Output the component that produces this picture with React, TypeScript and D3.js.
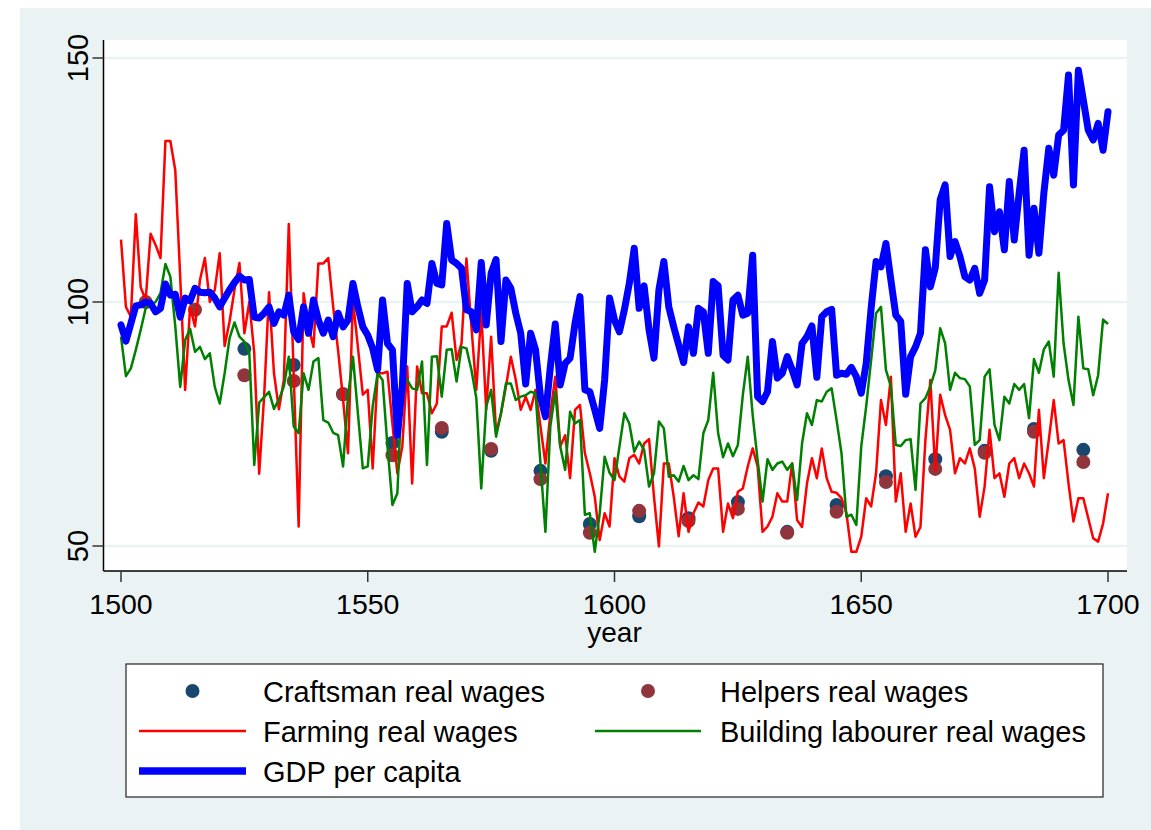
import React from 'react';
import * as d3 from 'd3';

// yearly series, 1500..1700
const startYear = 1500;

const farming = [
  112.8, 99, 97, 118, 103, 100.4, 114, 111.7, 109, 133, 133, 127, 105, 82, 99, 95, 104.5, 109, 100, 102.5,
  110, 91, 96, 102.5, 108, 93.6, 100, 89.5, 64.8, 80.6, 102, 85.4, 78, 84, 116, 85, 54, 101.8, 95, 90.8,
  107.9, 107.9, 109, 99, 90, 80, 69, 100.4, 90.8, 81, 82, 65.9, 85.4, 85.4, 85.7, 75, 64.9, 70.4, 86.8, 62.8,
  86.8, 81.3, 81.3, 77.2, 79.2, 95, 95, 97.8, 88.1, 91.5, 108.9, 95, 82, 98, 77.9, 92.9, 73.1, 77.2, 82.7, 88.8,
  84, 77.9, 80.6, 77.9, 82, 74.5, 66.9, 77.2, 84.7, 70.4, 72.7, 63.9, 77.9, 78.9, 69, 64.9, 60.1, 51.2, 56.7, 54,
  68, 64.2, 63.2, 68, 68.7, 66.9, 71, 71.9, 60.1, 49.9, 66.9, 66.9, 60.1, 52, 60.8, 52.9, 56.7, 58.9, 58.1, 63.5,
  65.9, 65.9, 52.9, 58.7, 55.7, 61.1, 61.8, 66.3, 70, 66.3, 52.9, 54, 56, 60.8, 59.1, 59.1, 66.9, 55.3, 53.9, 62.8,
  68, 63.9, 70, 63.9, 61.1, 60.9, 59.8, 56.7, 48.8, 48.8, 51.9, 59.8, 58.1, 64.9, 79.9, 74.8, 84.7, 59.1, 64.9, 52.9,
  58.7, 51.9, 53.9, 71.7, 84, 65.5, 81, 76.8, 73.8, 64.9, 68, 66.9, 70, 65.9, 56, 62.2, 73.8, 63.9, 64.9, 60.1,
  66.9, 68, 63.9, 66.9, 64.9, 62.2, 77.9, 63.9, 71.7, 79.9, 71, 71.7, 62.8, 55, 59.8, 59.8, 55.7, 51.6, 50.9, 54.6,
  60.8,
];

const building = [
  92.9, 84.8, 86.4, 90.2, 94.3, 98.7, 99.4, 100, 101.8, 107.8, 105.2, 95, 82.6, 92.2, 94.5, 89.8, 90.8, 88.3, 89.5, 82.6,
  79.2, 85.4, 92.6, 95.8, 92.9, 91.9, 89.5, 66.6, 79.4, 80.5, 81.6, 78.1, 80, 82.7, 88.8, 74.5, 73.1, 85.4, 82, 87.8,
  88.5, 75.8, 75.3, 73.2, 72.7, 66.3, 80.6, 88.8, 77.2, 65.9, 66.3, 78.6, 85.4, 84, 70.4, 58.4, 60.8, 84, 84, 82.3,
  82, 87.8, 66.6, 88.8, 88.9, 80.6, 90.2, 90.3, 83.7, 90.8, 90.5, 86.1, 80.3, 61.8, 78.6, 82, 72.4, 77.2, 83.3, 83.3,
  79.9, 80.6, 80.9, 81.6, 81.3, 66.9, 52.9, 74.5, 81.6, 70.4, 65.6, 77.5, 75.1, 75.8, 56.4, 56.7, 48.8, 56.7, 68.3, 65,
  63.5, 70.4, 77.2, 75.1, 69.3, 71.4, 69.7, 62.2, 64.9, 75.5, 74.1, 64.2, 64.5, 63.2, 66.4, 63.5, 64.5, 63.7, 73.1, 75.8,
  85.5, 73.1, 68.2, 71, 68.4, 70.7, 80.9, 88.8, 76.8, 67.6, 59.1, 67.8, 65.6, 66.9, 67.3, 65.6, 66.9, 59.4, 71, 77.2,
  74.8, 79.9, 79.6, 81.6, 82.3, 75.8, 69, 56, 56.4, 54.3, 70.4, 78.6, 88.1, 97.7, 99, 86.1, 82.7, 70.7, 70.5, 71.7,
  71.9, 61.5, 79.2, 80.3, 82.7, 86, 94.6, 91.5, 82, 85.5, 84.4, 84.2, 82.7, 70.7, 71.7, 84.7, 86.2, 74.8, 71.7, 80.6,
  79.2, 83.2, 82, 83.2, 76.2, 88.3, 85.5, 90.3, 91.9, 84.7, 106, 91.5, 84, 78.9, 97, 86.4, 86.2, 80.9, 85, 96.4,
  95.5,
];

const gdp = [
  95.3, 92, 95.6, 99.2, 99.4, 100, 99.7, 98, 98.7, 103.7, 101.4, 101.6, 96.9, 100.8, 100.2, 102.8, 102, 101.9, 102, 100.8,
  99, 100.8, 102.5, 104, 105.3, 104.5, 104.6, 96.9, 96.7, 97.7, 99, 95.6, 98, 97.3, 101.4, 93.9, 92.3, 99, 93.6, 100.4,
  96.3, 93.6, 96.3, 92.9, 97.7, 94.9, 96.3, 103.8, 99, 94.9, 93.2, 90.5, 86.1, 100.4, 91.5, 90.2, 72.7, 82.7, 103.8, 98,
  99, 100.4, 99.7, 107.9, 103.8, 103.5, 116.1, 108.6, 107.9, 106.9, 98.4, 98, 94.3, 108.1, 95.3, 105.9, 108.7, 91.9, 104.5, 102.8,
  97.7, 93.6, 83.2, 93.6, 90.2, 80.6, 76.5, 86.7, 95.5, 83, 87.4, 88.5, 95.6, 101.1, 82, 81.6, 77.9, 74.1, 84, 100.8,
  96.3, 93.9, 98.4, 103.8, 111, 98.7, 103.3, 94.3, 88.5, 102.5, 108.3, 99, 94.9, 91.2, 87.6, 94.9, 89.5, 98.7, 98, 89.5,
  104.2, 103.3, 89.1, 88.1, 100.4, 101.4, 97.3, 97.7, 109.6, 80.6, 79.6, 81.6, 91.9, 84.4, 85.4, 88.8, 86.1, 83, 91.5, 92.9,
  95.1, 84.6, 97, 98, 98.5, 85, 85.4, 85.2, 86.6, 84.7, 81.3, 87.4, 98.7, 108.3, 107.2, 112, 104.5, 97.3, 96, 81.1,
  88.8, 90.8, 93.6, 110.7, 103.1, 107, 121, 124, 109.3, 112.4, 109.3, 105.2, 104.5, 106.9, 101.8, 104.5, 123.6, 114.4, 118.5, 110.7,
  124.7, 112.7, 122.3, 131.1, 109.6, 119.2, 110, 122.3, 131.5, 126, 134.2, 135.2, 146.5, 124, 147.5, 141.4, 135.2, 133.2, 136.6, 131.1,
  139,
];

// decade observations
const markerYears = [1505, 1515, 1525, 1535, 1545, 1555, 1565, 1575, 1585, 1595, 1605, 1615, 1625, 1635, 1645, 1655, 1665, 1675, 1685, 1695];
const craftsman = [null, null, 90.4, 87.1, 81.1, 71.1, 73.4, 69.5, 65.4, 54.5, 56.1, 55.7, 59, 52.9, 58.4, 64.3, 67.8, 69.5, 74, 69.7];
const helpers = [100, 98.4, 85, 83.8, 81.1, 68.6, 74.2, 69.9, 63.7, 52.7, 57.2, 55.1, 57.6, 52.7, 57, 63.1, 65.8, 69.1, 73.4, 67.2];

const xTicks = [1500, 1550, 1600, 1650, 1700];
const yTicks = [50, 100, 150];

const W = 1151;
const H = 830;
const FONT = '"Liberation Sans", Arial, sans-serif';

const BG = '#eaf2f3';
const NAVY = '#1a476f';
const MAROON = '#90353b';

const x = d3.scaleLinear().domain([1500, 1700]).range([121, 1108]);
const y = d3.scaleLinear().domain([50, 150]).range([546, 58]);

const toPts = (vals: number[]) => vals.map((v, i) => [startYear + i, v] as [number, number]);

const line = d3
  .line<[number, number]>()
  .x((d) => x(d[0]))
  .y((d) => y(d[1]));

const plot = { left: 103.5, right: 1127, top: 40, bottom: 571 };

type LegendItem = { label: string; kind: 'dot' | 'line'; color: string; width?: number };
const legendItems: LegendItem[] = [
  { label: 'Craftsman real wages', kind: 'dot', color: NAVY },
  { label: 'Helpers real wages', kind: 'dot', color: MAROON },
  { label: 'Farming real wages', kind: 'line', color: '#ff0000', width: 2.5 },
  { label: 'Building labourer real wages', kind: 'line', color: '#008000', width: 2.5 },
  { label: 'GDP per capita', kind: 'line', color: '#0000ff', width: 7.5 },
];

export default function App() {
  return (
    <svg width={W} height={H} style={{ position: 'absolute', left: 0, top: 0 }} fontFamily={FONT}>
      <rect x={0} y={0} width={W} height={H} fill="#fff" />
      <rect x={20} y={8} width={W - 20} height={H - 8} fill={BG} />
      <rect x={plot.left} y={plot.top} width={plot.right - plot.left} height={plot.bottom - plot.top} fill="#fff" />

      {/* grid */}
      {yTicks.map((t) => (
        <line key={'g' + t} x1={plot.left} x2={plot.right} y1={y(t)} y2={y(t)} stroke={BG} strokeWidth={2.5} />
      ))}

      {/* axes */}
      <line x1={plot.left} x2={plot.left} y1={plot.top} y2={plot.bottom} stroke="#000" strokeWidth={1.5} />
      <line x1={plot.left} x2={plot.right} y1={plot.bottom} y2={plot.bottom} stroke="#000" strokeWidth={1.5} />
      {yTicks.map((t) => (
        <g key={'y' + t}>
          <line x1={plot.left - 11} x2={plot.left} y1={y(t)} y2={y(t)} stroke="#333" strokeWidth={1.5} />
          <text transform={`translate(88,${y(t)}) rotate(-90)`} textAnchor="middle" fontSize={29}>
            {t}
          </text>
        </g>
      ))}
      {xTicks.map((t) => (
        <g key={'x' + t}>
          <line x1={x(t)} x2={x(t)} y1={plot.bottom} y2={plot.bottom + 11} stroke="#333" strokeWidth={1.5} />
          <text x={x(t)} y={614} textAnchor="middle" fontSize={28.5}>
            {t}
          </text>
        </g>
      ))}
      <text x={x(1600)} y={642} textAnchor="middle" fontSize={28}>
        year
      </text>

      {/* markers */}
      {markerYears.map((yr, i) =>
        craftsman[i] == null ? null : <circle key={'c' + yr} cx={x(yr)} cy={y(craftsman[i] as number)} r={7} fill={NAVY} />
      )}
      {markerYears.map((yr, i) => (
        <circle key={'h' + yr} cx={x(yr)} cy={y(helpers[i])} r={7} fill={MAROON} />
      ))}

      {/* lines */}
      <path d={line(toPts(farming)) || ''} fill="none" stroke="#ff0000" strokeWidth={2.5} strokeLinejoin="round" />
      <path d={line(toPts(building)) || ''} fill="none" stroke="#008000" strokeWidth={2.5} strokeLinejoin="round" />
      <path d={line(toPts(gdp)) || ''} fill="none" stroke="#0000ff" strokeWidth={7} strokeLinejoin="round" strokeLinecap="round" />

      {/* legend */}
      <rect x={126} y={664} width={977} height={133} fill="#fff" stroke="#222" strokeWidth={1.2} />
      {legendItems.map((it, i) => {
        const col = i % 2;
        const row = Math.floor(i / 2);
        const cy = 691 + row * 40;
        const x0 = col === 0 ? 139 : 595;
        const x1 = col === 0 ? 246 : 701;
        const tx = col === 0 ? 263 : 720;
        return (
          <g key={it.label}>
            {it.kind === 'dot' ? (
              <circle cx={(x0 + x1) / 2} cy={cy} r={7} fill={it.color} />
            ) : (
              <line x1={x0} x2={x1} y1={cy} y2={cy} stroke={it.color} strokeWidth={it.width} />
            )}
            <text x={tx} y={cy + 11} fontSize={29}>
              {it.label}
            </text>
          </g>
        );
      })}
    </svg>
  );
}
